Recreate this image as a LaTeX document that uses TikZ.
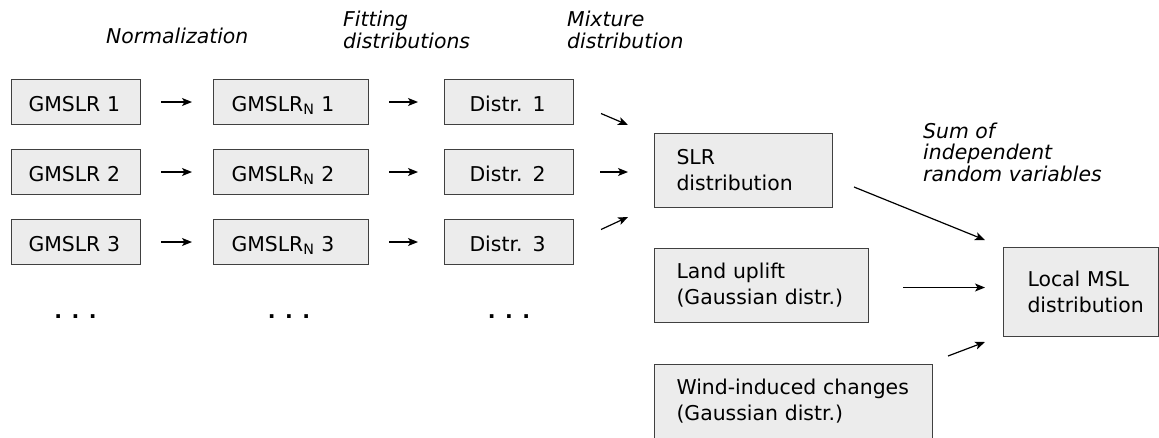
\documentclass[tikz,border=0pt]{standalone}
\usepackage{fontspec}
\setmainfont{DejaVu Sans}
\usetikzlibrary{arrows.meta}

\tikzset{
  txt/.style={font=\fontsize{20.4}{26}\selectfont},
  box/.style n args={3}{txt, draw=black!75, line width=1pt, fill=gray!15,
    anchor=north west, align=left, inner ysep=0pt, inner xsep=#1,
    text width=#2, minimum height=#3},
  cell/.style n args={2}{box={#1}{#2}{45pt}, text height=18pt, text depth=0pt},
  lab/.style={font=\fontsize{20.4}{21.5}\selectfont\itshape, inner sep=0pt,
    align=left, anchor=base west},
  dots/.style={font=\fontsize{20.4}{26}\selectfont\bfseries, inner sep=0pt, anchor=base},
  arr/.style={line width=1.2pt, -{Stealth[length=10pt, width=8pt, inset=2.5pt]}},
}

\begin{document}
\begin{tikzpicture}[x=1pt, y=-1pt]
\useasboundingbox (0,0) rectangle (1159,437);
\clip (0,0) rectangle (1159,437);

% input series, normalized series and fitted distributions
\node[cell={17pt}{95pt}] (g1) at (11,79)  {GMSLR 1};
\node[cell={17pt}{95pt}] (g2) at (11,149) {GMSLR 2};
\node[cell={17pt}{95pt}] (g3) at (11,219) {GMSLR 3};

\node[cell={18pt}{119pt}] (n1) at (213,79)  {GMSLR\textsubscript{N} 1};
\node[cell={18pt}{119pt}] (n2) at (213,149) {GMSLR\textsubscript{N} 2};
\node[cell={18pt}{119pt}] (n3) at (213,219) {GMSLR\textsubscript{N} 3};

\node[cell={25pt}{79pt}] (d1) at (444,79)  {Distr. 1};
\node[cell={25pt}{79pt}] (d2) at (444,149) {Distr. 2};
\node[cell={25pt}{79pt}] (d3) at (444,219) {Distr. 3};

\node[dots] (e1) at (75.5,318) {. . .};
\node[dots] (e2) at (289,318)  {. . .};
\node[dots] (e3) at (509,318)  {. . .};

% combined distributions
\node[box={22pt}{134pt}{74pt}] (slr)   at (654,133) {SLR\\distribution};
\node[box={22pt}{170pt}{74pt}] (land)  at (654,248) {Land uplift\\(Gaussian distr.)};
\node[box={22pt}{234pt}{74pt}] (wind)  at (654,364) {\mbox{Wind-induced changes}\\(Gaussian distr.)};
\node[box={24pt}{107pt}{89pt}] (local) at (1003,247) {Local MSL\\distribution};

% step labels (anchored at the baseline of their last line)
\node[lab] (l1) at (106,43) {Normalization};
\node[lab] (l2) at (343,48) {Fitting\\distributions};
\node[lab] (l3) at (567,48) {Mixture\\distribution};
\node[lab] (l4) at (923,181) {Sum of\\independent\\random variables};

% row arrows
\foreach \r in {1,2,3}{
  \draw[arr] ([xshift=20pt]g\r.east) -- ([xshift=-21pt]n\r.west);
  \draw[arr] ([xshift=20pt]n\r.east) -- ([xshift=-26pt]d\r.west);
}

% arrows into the mixture
\coordinate (m1s) at ([xshift=27pt, yshift=-11.5pt]d1.east);
\coordinate (m1e) at ([xshift=-26pt, yshift=8pt]slr.north west);
\coordinate (m2s) at ([xshift=26pt]d2.east);
\path (d2.east -| slr.west) ++(-26,0) coordinate (m2e);
\coordinate (m3s) at ([xshift=27pt, yshift=12.5pt]d3.east);
\coordinate (m3e) at ([xshift=-26pt, yshift=-9pt]slr.south west);
\draw[arr] (m1s) -- (m1e);
\draw[arr] (m2s) -- (m2e);
\draw[arr] (m3s) -- (m3e);

% arrows into the local distribution
\coordinate (s1) at ([xshift=21pt, yshift=21pt]slr.south east);
\coordinate (t1) at ([xshift=-18pt, yshift=7pt]local.north west);
\coordinate (s2) at ([xshift=34pt, yshift=-2pt]land.east);
\path (s2 -| local.west) ++(-18,0) coordinate (t2);
\coordinate (s3) at ([xshift=15pt, yshift=8pt]wind.north east);
\coordinate (t3) at ([xshift=-18pt, yshift=-5pt]local.south west);
\draw[arr] (s1) -- (t1);
\draw[arr] (s2) -- (t2);
\draw[arr] (s3) -- (t3);
\end{tikzpicture}
\end{document}
